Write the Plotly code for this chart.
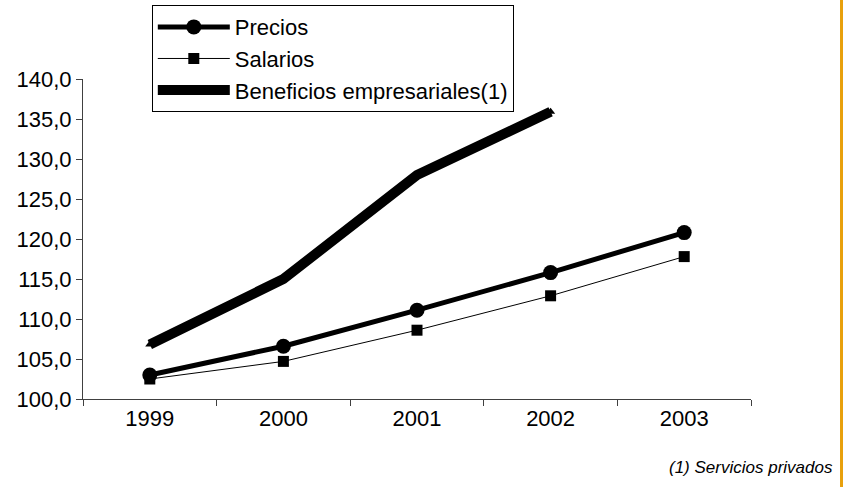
import plotly.graph_objects as go

years = ["1999", "2000", "2001", "2002", "2003"]
precios = [103.0, 106.6, 111.1, 115.8, 120.8]
salarios = [102.5, 104.7, 108.6, 112.9, 117.8]
beneficios = [106.8, 115.0, 128.0, 135.9]
y_ticks = [100, 105, 110, 115, 120, 125, 130, 135, 140]

font_main = "Liberation Sans, Arial, sans-serif"

fig = go.Figure()

fig.add_trace(go.Scatter(x=years, y=precios, mode="lines+markers", name="Precios",
                         line=dict(color="black", width=5),
                         marker=dict(symbol="circle", size=15, color="black")))
fig.add_trace(go.Scatter(x=years, y=salarios, mode="lines+markers", name="Salarios",
                         line=dict(color="black", width=1),
                         marker=dict(symbol="square", size=11, color="black")))
fig.add_trace(go.Scatter(x=years[:len(beneficios)], y=beneficios, mode="lines+markers",
                         name="Beneficios empresariales(1)",
                         line=dict(color="black", width=10),
                         marker=dict(symbol="triangle-up", size=8, color="black")))

fig.update_layout(
    width=843, height=487,
    margin=dict(l=83, r=92, t=79, b=88, autoexpand=False),
    plot_bgcolor="white", paper_bgcolor="white",
    separators=",.",
    font=dict(family=font_main, size=22, color="black"),
    legend=dict(x=0.103, y=1.231, xanchor="left", yanchor="top",
                bordercolor="black", borderwidth=1, bgcolor="white",
                font=dict(size=22), itemwidth=72, tracegroupgap=0,
                entrywidth=295, entrywidthmode="pixels"),
    showlegend=True,
)

fig.update_xaxes(type="category", range=[-0.5, 4.5], tickson="boundaries",
                 ticks="outside", ticklen=6, tickcolor="#404040",
                 showline=True, linecolor="#404040", linewidth=1,
                 showgrid=False, zeroline=False)
fig.update_yaxes(range=[100, 140], tickvals=y_ticks, tickformat=".1f",
                 ticks="outside", ticklen=6, tickcolor="#404040",
                 showline=True, linecolor="#404040", linewidth=1,
                 showgrid=False, zeroline=False)

# footnote
fig.add_annotation(text="<i>(1) Servicios privados</i>", xref="paper", yref="paper",
                   x=1.1257, y=-0.2125, xanchor="right", yanchor="middle",
                   showarrow=False,
                   font=dict(family=font_main, size=17, color="black"))

# orange border line on the right edge
fig.add_shape(type="line", xref="paper", yref="paper",
              x0=1.1355, x1=1.1355, y0=-0.3, y1=1.3,
              line=dict(color="#E8A00C", width=3))

fig.write_html("out.html", config={"displayModeBar": False},
               post_script="document.body.style.margin='0px';")
